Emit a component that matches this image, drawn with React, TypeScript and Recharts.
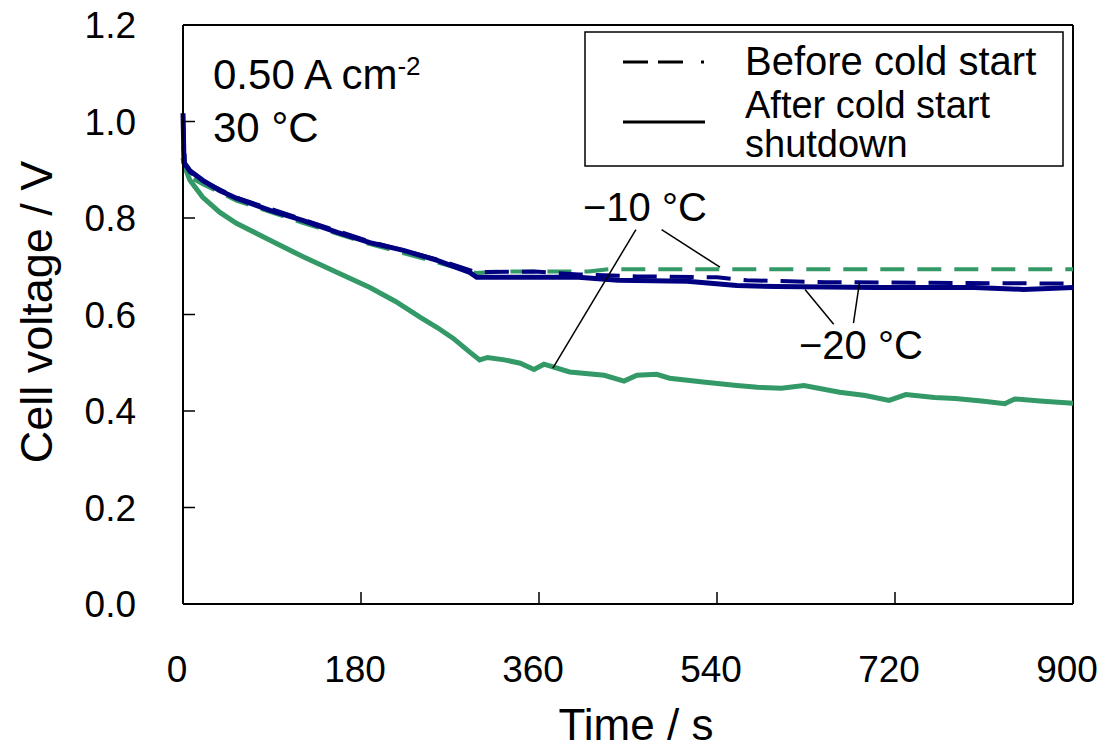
import React from "react";
import { LineChart, Line, XAxis, YAxis, ReferenceLine } from "recharts";

const FONT = '"Liberation Sans", Arial, sans-serif';
const GREEN = "#339966";
const NAVY = "#000080";

// ticks
const xTicks = [0, 180, 360, 540, 720, 900];
const yTicks = [0, 0.2, 0.4, 0.6, 0.8, 1.0, 1.2];

// -10 °C, after cold start shutdown (green solid)
const afterM10Time = [0, 2, 7, 20, 37, 54, 88, 121, 156, 189, 215, 240, 257, 273, 290, 300, 308, 325, 341, 355, 365, 391, 426, 446, 459, 479, 492, 526, 560, 581, 605, 628, 664, 690, 714, 731, 760, 781, 810, 831, 841, 870, 900];
const afterM10Volt = [0.925, 0.905, 0.878, 0.843, 0.812, 0.789, 0.754, 0.72, 0.687, 0.656, 0.627, 0.594, 0.573, 0.551, 0.522, 0.506, 0.511, 0.506, 0.499, 0.486, 0.497, 0.481, 0.474, 0.462, 0.474, 0.476, 0.468, 0.46, 0.453, 0.449, 0.447, 0.453, 0.439, 0.432, 0.422, 0.434, 0.428, 0.426, 0.42, 0.415, 0.425, 0.42, 0.416];

// -10 °C, before cold start (green dashed)
const beforeM10Time = [0, 2, 7, 20, 54, 121, 189, 257, 296, 320, 410, 430, 900];
const beforeM10Volt = [0.95, 0.9, 0.885, 0.87, 0.836, 0.79, 0.746, 0.708, 0.686, 0.689, 0.689, 0.694, 0.694];

// -20 °C, before cold start (navy dashed)
const beforeM20Time = [0, 2, 7, 20, 54, 121, 189, 257, 296, 356, 400, 460, 540, 570, 650, 900];
const beforeM20Volt = [1.01, 0.91, 0.895, 0.877, 0.842, 0.797, 0.751, 0.714, 0.688, 0.689, 0.683, 0.679, 0.677, 0.671, 0.667, 0.664];

// -20 °C, after cold start shutdown (navy solid)
const afterM20Time = [0, 1, 7, 20, 37, 54, 88, 121, 156, 189, 223, 257, 290, 297, 350, 400, 440, 510, 560, 600, 700, 800, 850, 900];
const afterM20Volt = [1.017, 0.915, 0.898, 0.878, 0.857, 0.841, 0.816, 0.795, 0.77, 0.749, 0.733, 0.712, 0.687, 0.677, 0.677, 0.677, 0.671, 0.669, 0.66, 0.658, 0.656, 0.656, 0.652, 0.656];

const toPoints = (ts: number[], vs: number[]) => ts.map((t, i) => ({ t, v: vs[i] }));

const tickStyle = { fontSize: 37, fill: "#000", fontFamily: FONT };

export default function App() {
  return (
    <div style={{ position: "absolute", left: 0, top: 0, width: 1107, height: 749, background: "#fff" }}>
      <LineChart width={1107} height={749} margin={{ top: 25, right: 34, bottom: 0, left: 0 }}>
        <XAxis
          dataKey="t"
          type="number"
          domain={[0, 900]}
          ticks={xTicks}
          interval={0}
          height={145}
          tickSize={-12}
          tickMargin={64}
          tick={{ ...tickStyle, dx: -6 }}
          axisLine={{ stroke: "#000", strokeWidth: 2 }}
          tickLine={{ stroke: "#000", strokeWidth: 1.5 }}
        />
        <YAxis
          type="number"
          domain={[0, 1.2]}
          ticks={yTicks}
          interval={0}
          width={183}
          tickSize={-12}
          tickMargin={59}
          tickFormatter={(v: number) => v.toFixed(1)}
          tick={tickStyle}
          axisLine={{ stroke: "#000", strokeWidth: 2 }}
          tickLine={{ stroke: "#000", strokeWidth: 1.5 }}
        />
        <ReferenceLine y={1.2} stroke="#000" strokeWidth={2} />
        <ReferenceLine x={900} stroke="#000" strokeWidth={2} />

        <Line data={toPoints(beforeM10Time, beforeM10Volt)} dataKey="v" type="linear" dot={false} stroke={GREEN} strokeWidth={4} strokeDasharray="24 13" isAnimationActive={false} />
        <Line data={toPoints(afterM10Time, afterM10Volt)} dataKey="v" type="linear" dot={false} stroke={GREEN} strokeWidth={5} isAnimationActive={false} />
        <Line data={toPoints(beforeM20Time, beforeM20Volt)} dataKey="v" type="linear" dot={false} stroke={NAVY} strokeWidth={4} strokeDasharray="24 13" isAnimationActive={false} />
        <Line data={toPoints(afterM20Time, afterM20Volt)} dataKey="v" type="linear" dot={false} stroke={NAVY} strokeWidth={5} isAnimationActive={false} />

        {/* leader lines for the temperature labels */}
        <ReferenceLine segment={[{ x: 458, y: 0.776 }, { x: 374, y: 0.489 }]} stroke="#000" strokeWidth={1.5} />
        <ReferenceLine segment={[{ x: 484, y: 0.776 }, { x: 543, y: 0.698 }]} stroke="#000" strokeWidth={1.5} />
        <ReferenceLine segment={[{ x: 658, y: 0.58 }, { x: 629, y: 0.652 }]} stroke="#000" strokeWidth={1.5} />
        <ReferenceLine segment={[{ x: 678, y: 0.582 }, { x: 684, y: 0.665 }]} stroke="#000" strokeWidth={1.5} />
      </LineChart>

      {/* text overlay: titles, annotations, legend */}
      <svg width={1107} height={749} style={{ position: "absolute", left: 0, top: 0, pointerEvents: "none" }} fontFamily={FONT}>
        <text x={36} y={312} transform="rotate(-90 36 312)" textAnchor="middle" dominantBaseline="central" fontSize={45}>
          Cell voltage / V
        </text>
        <text x={636} y={740} textAnchor="middle" fontSize={44}>
          Time / s
        </text>

        <text x={213} y={89} fontSize={42}>
          0.50 A cm<tspan fontSize={26} dy={-14}>-2</tspan>
        </text>
        <text x={213} y={142} fontSize={42}>30 °C</text>

        <text x={583} y={221} fontSize={40}>−10 °C</text>
        <text x={799} y={359} fontSize={40}>−20 °C</text>

        <rect x={585} y={32} width={478} height={134} fill="#fff" stroke="#000" strokeWidth={1.5} />
        <line x1={623} y1={62} x2={705} y2={62} stroke="#000" strokeWidth={3} strokeDasharray="25 10 25 18 3 100" />
        <line x1={623} y1={122} x2={705} y2={122} stroke="#000" strokeWidth={3} />
        <text x={745} y={75} fontSize={40}>Before cold start</text>
        <text x={745} y={118} fontSize={38}>After cold start</text>
        <text x={745} y={157} fontSize={38}>shutdown</text>
      </svg>
    </div>
  );
}
